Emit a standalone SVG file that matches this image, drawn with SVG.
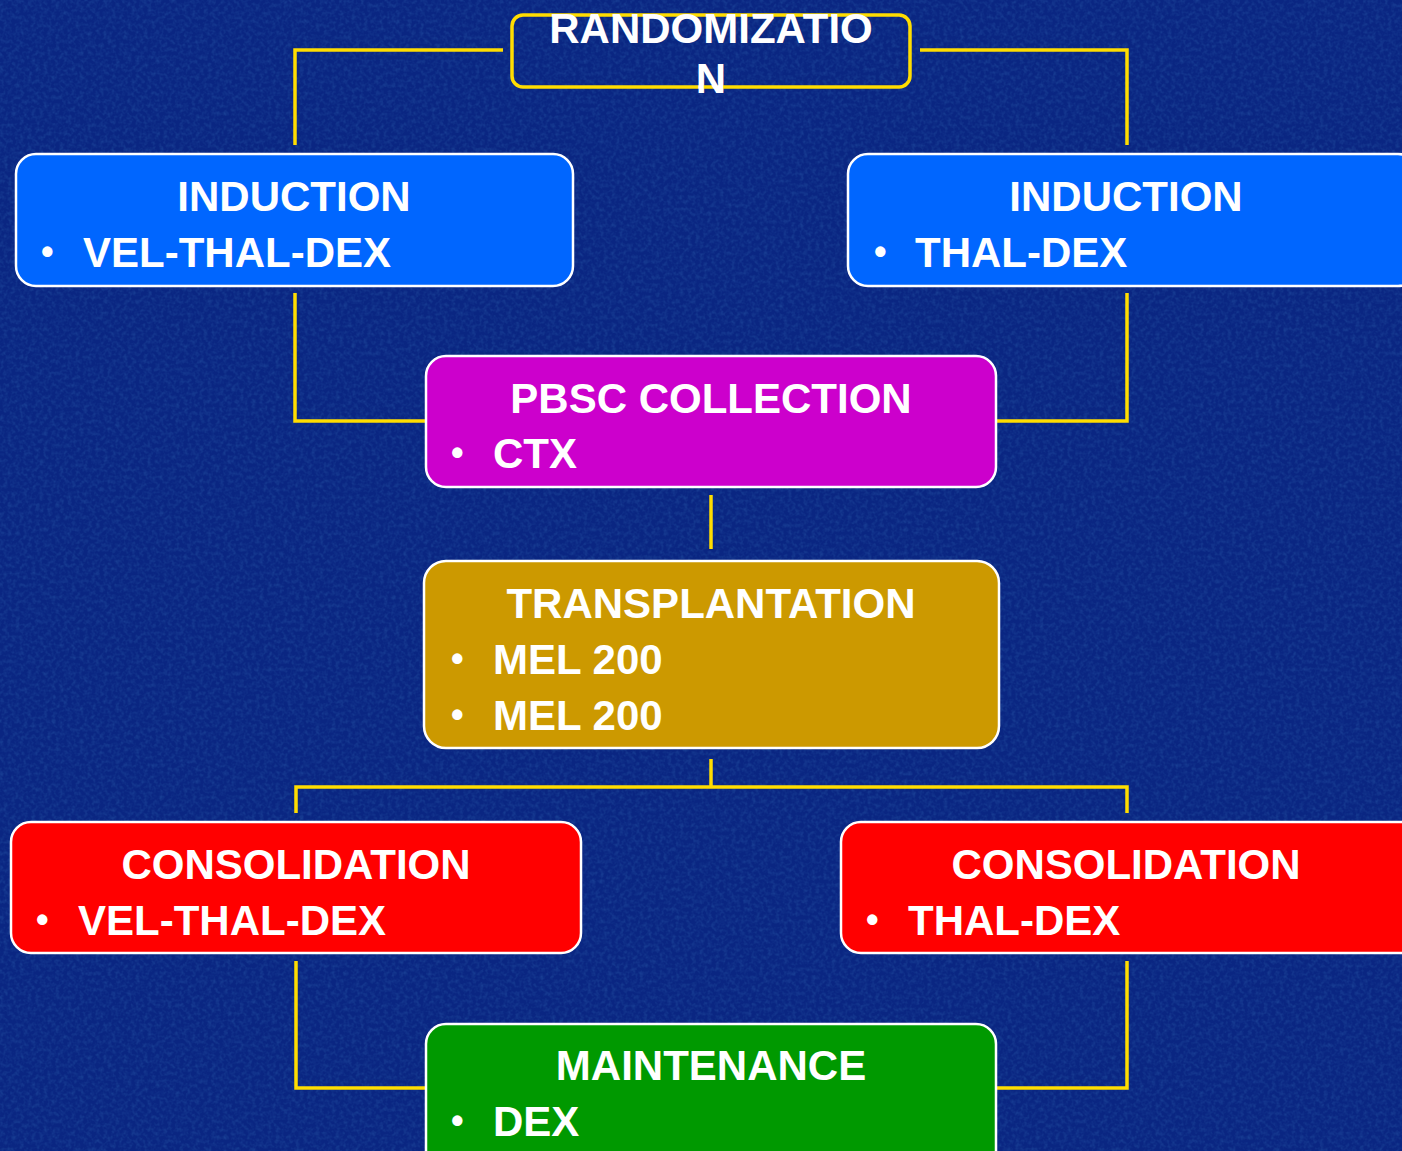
<svg xmlns="http://www.w3.org/2000/svg" width="1402" height="1151" viewBox="0 0 1402 1151">
<defs>
<filter id="noise" x="0" y="0" width="100%" height="100%">
<feTurbulence type="fractalNoise" baseFrequency="0.25" numOctaves="2" seed="3" result="t"/>
<feColorMatrix type="matrix" values="0 0 0 0 0.05  0 0 0 0 0.22  0 0 0 0 0.55  0 0 0 1.4 -0.55"/>
</filter>
</defs>
<style>
.bg{fill:#0a2682}
.box{stroke:#ffffff;stroke-width:2.5}
.t{font-family:"Liberation Sans",Arial,sans-serif;font-weight:bold;font-size:42px;fill:#ffffff}
.c{text-anchor:middle}
.b{font-size:36px}
.con{fill:none;stroke:#ffdd00;stroke-width:3.5}
</style>
<rect class="bg" x="0" y="0" width="1402" height="1151"/>
<rect x="0" y="0" width="1402" height="1151" filter="url(#noise)" opacity="0.35"/>

<g id="connectors">
<polyline class="con" points="503,50 295,50 295,145"/>
<polyline class="con" points="920,50 1127,50 1127,145"/>
<polyline class="con" points="295,293 295,421 427,421"/>
<polyline class="con" points="1127,293 1127,421 997,421"/>
<line class="con" x1="711" y1="495" x2="711" y2="549"/>
<line class="con" x1="711" y1="759" x2="711" y2="787"/>
<polyline class="con" points="296,813 296,787 1127,787 1127,813"/>
<polyline class="con" points="296,961 296,1088 427,1088"/>
<polyline class="con" points="1127,961 1127,1088 997,1088"/>
</g>

<g id="randomization">
<rect x="512" y="15" width="398" height="72" rx="11" fill="none" stroke="#ffdd00" stroke-width="3.5"/>
<text class="t c" x="711" y="43">RANDOMIZATIO</text>
<text class="t c" x="711" y="93">N</text>
</g>

<g id="induction-left">
<rect class="box" x="16" y="154" width="557" height="132" rx="20" fill="#0066ff"/>
<text class="t c" x="294" y="211">INDUCTION</text>
<text class="t b" x="41" y="264">•</text>
<text class="t" x="83" y="267">VEL-THAL-DEX</text>
</g>

<g id="induction-right">
<rect class="box" x="848" y="154" width="570" height="132" rx="20" fill="#0066ff"/>
<text class="t c" x="1126" y="211">INDUCTION</text>
<text class="t b" x="874" y="264">•</text>
<text class="t" x="915" y="267">THAL-DEX</text>
</g>

<g id="pbsc">
<rect class="box" x="426" y="356" width="570" height="131" rx="20" fill="#cc00cc"/>
<text class="t c" x="711" y="413">PBSC COLLECTION</text>
<text class="t b" x="451" y="465">•</text>
<text class="t" x="493" y="468">CTX</text>
</g>

<g id="transplantation">
<rect class="box" x="424" y="561" width="575" height="187" rx="22" fill="#cc9900"/>
<text class="t c" x="711" y="618">TRANSPLANTATION</text>
<text class="t b" x="451" y="671">•</text>
<text class="t" x="493" y="674">MEL 200</text>
<text class="t b" x="451" y="727">•</text>
<text class="t" x="493" y="730">MEL 200</text>
</g>

<g id="consolidation-left">
<rect class="box" x="11" y="822" width="570" height="131" rx="20" fill="#ff0000"/>
<text class="t c" x="296" y="879">CONSOLIDATION</text>
<text class="t b" x="36" y="932">•</text>
<text class="t" x="78" y="935">VEL-THAL-DEX</text>
</g>

<g id="consolidation-right">
<rect class="box" x="841" y="822" width="580" height="131" rx="20" fill="#ff0000"/>
<text class="t c" x="1126" y="879">CONSOLIDATION</text>
<text class="t b" x="866" y="932">•</text>
<text class="t" x="908" y="935">THAL-DEX</text>
</g>

<g id="maintenance">
<rect class="box" x="426" y="1024" width="570" height="150" rx="20" fill="#009900"/>
<text class="t c" x="711" y="1080">MAINTENANCE</text>
<text class="t b" x="451" y="1133">•</text>
<text class="t" x="493" y="1136">DEX</text>
</g>
</svg>
